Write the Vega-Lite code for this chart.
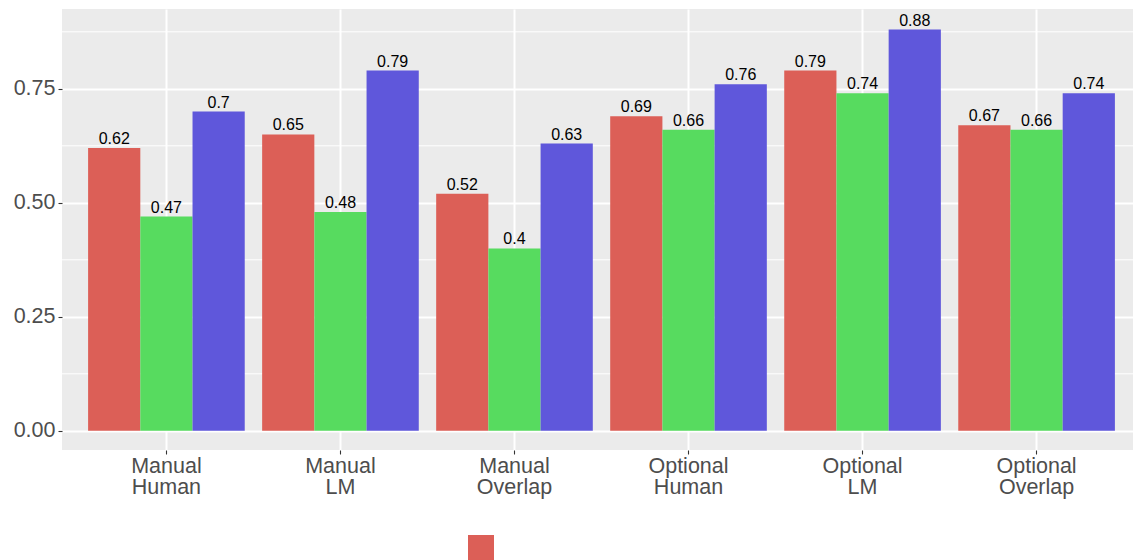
{
  "$schema": "https://vega.github.io/schema/vega-lite/v6.json",
  "autosize": "none",
  "padding": {"left": 62, "top": 9, "right": 0, "bottom": 110},
  "width": 1079,
  "height": 441,
  "background": "white",
  "config": {
    "font": "Liberation Sans",
    "view": {"fill": "#EBEBEB", "stroke": null},
    "axis": {
      "domain": false,
      "grid": true,
      "gridColor": "white",
      "gridWidth": 2,
      "tickColor": "#333333",
      "tickWidth": 1.1,
      "tickSize": 4,
      "labelColor": "#4D4D4D",
      "labelFont": "Liberation Sans",
      "labelFontSize": 21.5,
      "title": null
    }
  },
  "datasets": {
    "scores": [
      {"condition": "Manual Human", "series": "A", "value": 0.62},
      {"condition": "Manual Human", "series": "B", "value": 0.47},
      {"condition": "Manual Human", "series": "C", "value": 0.70},
      {"condition": "Manual LM", "series": "A", "value": 0.65},
      {"condition": "Manual LM", "series": "B", "value": 0.48},
      {"condition": "Manual LM", "series": "C", "value": 0.79},
      {"condition": "Manual Overlap", "series": "A", "value": 0.52},
      {"condition": "Manual Overlap", "series": "B", "value": 0.40},
      {"condition": "Manual Overlap", "series": "C", "value": 0.63},
      {"condition": "Optional Human", "series": "A", "value": 0.69},
      {"condition": "Optional Human", "series": "B", "value": 0.66},
      {"condition": "Optional Human", "series": "C", "value": 0.76},
      {"condition": "Optional LM", "series": "A", "value": 0.79},
      {"condition": "Optional LM", "series": "B", "value": 0.74},
      {"condition": "Optional LM", "series": "C", "value": 0.88},
      {"condition": "Optional Overlap", "series": "A", "value": 0.67},
      {"condition": "Optional Overlap", "series": "B", "value": 0.66},
      {"condition": "Optional Overlap", "series": "C", "value": 0.74}
    ],
    "minor": [
      {"v": 0.125}, {"v": 0.375}, {"v": 0.625}, {"v": 0.875}
    ]
  },
  "layer": [
    {
      "data": {"name": "minor"},
      "mark": {"type": "rule", "color": "white", "strokeWidth": 1},
      "encoding": {
        "y": {"field": "v", "type": "quantitative", "scale": {"domain": [-0.042, 0.925], "nice": false, "zero": false}}
      }
    },
    {
      "data": {"name": "scores"},
      "mark": {"type": "bar"},
      "encoding": {
        "x": {
          "field": "condition", "type": "nominal", "sort": null,
          "scale": {"paddingInner": 0.1, "paddingOuter": 0.15},
          "axis": {"labelExpr": "split(datum.label, ' ')", "labelLineHeight": 21, "labelPadding": 1, "bandPosition": 0.5, "labelAngle": 0, "grid": true}
        },
        "xOffset": {"field": "series", "type": "nominal", "scale": {"paddingInner": 0, "paddingOuter": 0}},
        "y": {
          "field": "value", "type": "quantitative",
          "scale": {"domain": [-0.042, 0.925], "nice": false, "zero": false},
          "axis": {"values": [0, 0.25, 0.5, 0.75], "format": ".2f", "labelPadding": 3}
        },
        "y2": {"datum": 0},
        "color": {
          "field": "series", "type": "nominal",
          "scale": {"range": ["#DC5F57", "#57DB5F", "#5F57DB"]},
          "legend": {
            "orient": "none", "legendX": 406, "legendY": 526,
            "direction": "vertical", "title": null, "symbolType": "square",
            "symbolSize": 676, "symbolStrokeWidth": 0, "labelFontSize": 0, "labelColor": "white",
            "padding": 0, "rowPadding": 2
          }
        }
      }
    },
    {
      "data": {"name": "scores"},
      "mark": {"type": "text", "baseline": "bottom", "dy": -1, "fontSize": 16, "color": "black"},
      "encoding": {
        "x": {"field": "condition", "type": "nominal", "sort": null},
        "xOffset": {"field": "series", "type": "nominal"},
        "y": {"field": "value", "type": "quantitative"},
        "text": {"field": "value", "type": "quantitative", "format": ".2~f"}
      }
    }
  ]
}
